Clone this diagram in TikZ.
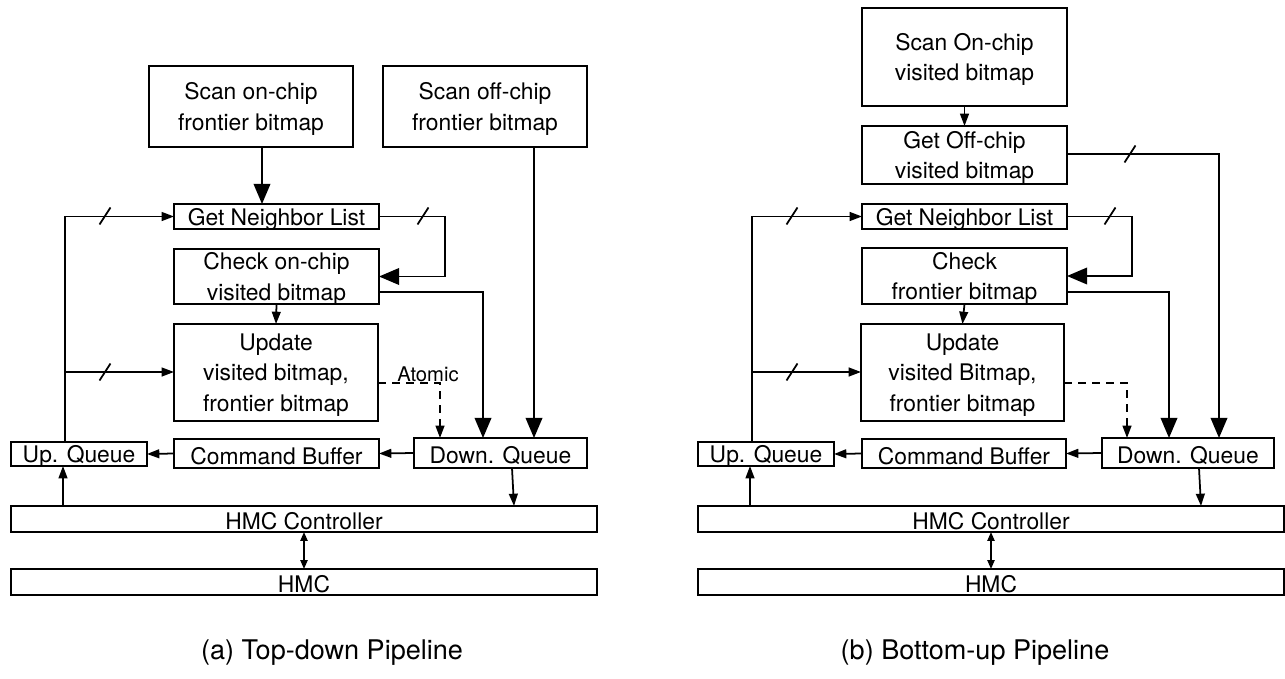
\documentclass[tikz,border=0pt]{standalone}
\usepackage{fontspec}
\setmainfont{TeX Gyre Heros}
\usetikzlibrary{arrows.meta}
\tikzset{
  box/.style={draw, line width=1.1pt, inner sep=0pt, outer sep=0pt, rectangle},
  txt/.style={font=\fontsize{13}{17.5}\selectfont, align=center, inner sep=0pt, yshift=-0.05cm},
  captxt/.style={font=\fontsize{15.4}{18}\selectfont, inner sep=0pt},
  conn/.style={line width=1pt},
  barr/.style={conn, -{Triangle[width=9.5pt,length=11.5pt]}},
  sarr/.style={conn, -{Triangle[width=5pt,length=7pt]}},
  darr/.style={conn, {Triangle[width=4pt,length=5pt]}-{Triangle[width=4pt,length=5pt]}},
  dsh/.style={sarr, dash pattern=on 4.5pt off 3.5pt},
  busmark/.pic={\draw[line width=1pt] (-5.5,8.5) -- (5.5,-8.5);}
}
\newcommand\mkbox[6]{%
  \node[box, minimum width={(#4-#2)*0.02cm}, minimum height={(#5-#3)*0.02cm}] (#1) at ({(#2+#4)/2},{(#3+#5)/2}) {};
  \node[txt] (#1t) at (#1) {#6};}
\begin{document}
\begin{tikzpicture}[x=0.02cm,y=-0.02cm]
\useasboundingbox (0,0) rectangle (1285,679);

% ---------------- (a) Top-down ----------------
\mkbox{sonL}{149}{66}{353}{147}{Scan on-chip\\frontier bitmap}
\mkbox{soffL}{383}{66}{587}{147}{Scan off-chip\\frontier bitmap}
\mkbox{gnlL}{174}{204}{379}{229}{Get Neighbor List}
\mkbox{chkL}{174}{249}{379}{304}{Check on-chip\\visited bitmap}
\mkbox{updL}{174}{324}{378}{421}{Update\\visited bitmap,\\frontier bitmap}
\mkbox{upqL}{11}{442}{147}{466}{Up. Queue}
\mkbox{cbL}{174}{439}{379}{468}{Command Buffer}
\mkbox{dqL}{414}{438}{587}{468}{Down. Queue}
\mkbox{hmccL}{11}{506}{597}{532}{HMC Controller}
\mkbox{hmcL}{11}{569}{597}{595}{HMC}

\coordinate (La) at (262,0);
\coordinate (Lb) at (534,0);
\coordinate (Lc) at (483,0);
\coordinate (Ld) at (445,0);
\coordinate (Le) at (440,0);
\coordinate (Lf) at (65,0);
\coordinate (Lg) at (63,0);
\coordinate (Lh) at (512,0);
\coordinate (Li) at (514,0);
\coordinate (Lyc) at (0,292);
\coordinate (Lyd) at (0,383);
\coordinate (Lyu) at (0,372);

\draw[barr] (sonL.south -| La) -- (gnlL.north -| La);
\draw[barr] (soffL.south -| Lb) -- (dqL.north -| Lb);
\draw[barr] (chkL.east |- Lyc) -| (dqL.north -| Lc);
\draw[barr] (gnlL.east) -| (Ld |- chkL.east) -- (chkL.east);
\draw[dsh] (updL.east |- Lyd) -| (dqL.north -| Le);
\draw[sarr] (chkL.south) -- (updL.north);
\draw[sarr] (upqL.north -| Lf) |- (gnlL.west);
\draw[sarr] (Lf |- Lyu) -- (updL.west |- Lyu);
\draw[sarr] (dqL.west) -- (cbL.east);
\draw[sarr] (cbL.west) -- (upqL.east);
\draw[sarr] (hmccL.north -| Lg) -- (upqL.south -| Lg);
\draw[sarr] (dqL.south -| Lh) -- (hmccL.north -| Li);
\draw[darr] (hmccL.south) -- (hmcL.north);

\node[font=\fontsize{11.5}{14}\selectfont, inner sep=0pt] (atomic) at (428,374) {Atomic};

\pic at (105,216) {busmark};
\pic at (105,372) {busmark};
\pic at (423,216) {busmark};

\node[captxt] (capa) at (332,653) {(a) Top-down Pipeline};

% ---------------- (b) Bottom-up ----------------
\mkbox{sonR}{862}{8}{1067}{106}{Scan On-chip\\visited bitmap}
\mkbox{goffR}{862}{126}{1067}{184}{Get Off-chip\\visited bitmap}
\mkbox{gnlR}{862}{204}{1067}{229}{Get Neighbor List}
\mkbox{chkR}{862}{248}{1067}{304}{Check\\frontier bitmap}
\mkbox{updR}{861}{324}{1064}{421}{Update\\visited Bitmap,\\frontier bitmap}
\mkbox{upqR}{698}{442}{834}{466}{Up. Queue}
\mkbox{cbR}{862}{439}{1066}{468}{Command Buffer}
\mkbox{dqR}{1102}{438}{1274}{468}{Down. Queue}
\mkbox{hmccR}{698}{506}{1284}{532}{HMC Controller}
\mkbox{hmcR}{698}{569}{1284}{595}{HMC}

\coordinate (Ra) at (1219,0);
\coordinate (Rc) at (1169,0);
\coordinate (Rd) at (1132,0);
\coordinate (Re) at (1127,0);
\coordinate (Rf) at (752,0);
\coordinate (Rg) at (750,0);
\coordinate (Rh) at (1199,0);
\coordinate (Ri) at (1201,0);
\coordinate (Rya) at (0,154);
\coordinate (Ryc) at (0,292);
\coordinate (Ryd) at (0,383);
\coordinate (Ryu) at (0,372);

\draw[sarr] (sonR.south) -- (goffR.north);
\draw[barr] (goffR.east |- Rya) -| (dqR.north -| Ra);
\draw[barr] (chkR.east |- Ryc) -| (dqR.north -| Rc);
\draw[barr] (gnlR.east) -| (Rd |- chkR.east) -- (chkR.east);
\draw[dsh] (updR.east |- Ryd) -| (dqR.north -| Re);
\draw[sarr] (chkR.south) -- (updR.north);
\draw[sarr] (upqR.north -| Rf) |- (gnlR.west);
\draw[sarr] (Rf |- Ryu) -- (updR.west |- Ryu);
\draw[sarr] (dqR.west) -- (cbR.east);
\draw[sarr] (cbR.west) -- (upqR.east);
\draw[sarr] (hmccR.north -| Rg) -- (upqR.south -| Rg);
\draw[sarr] (dqR.south -| Rh) -- (hmccR.north -| Ri);
\draw[darr] (hmccR.south) -- (hmcR.north);

\pic at (792,216) {busmark};
\pic at (792,372) {busmark};
\pic at (1110,216) {busmark};
\pic at (1130,154) {busmark};

\node[captxt] (capb) at (975,653) {(b) Bottom-up Pipeline};
\end{tikzpicture}
\end{document}
